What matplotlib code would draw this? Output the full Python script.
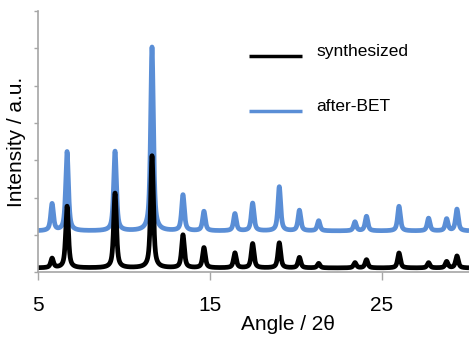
import numpy as np
import matplotlib.pyplot as plt

plt.rcParams['font.family'] = ['Liberation Sans', 'DejaVu Sans']

# peak list (2theta, deg) and peak heights above background for each pattern
peak_pos = [5.82, 6.69, 9.48, 11.63, 13.43, 14.65, 16.45, 17.48, 19.03,
            20.20, 21.32, 23.43, 24.10, 25.99, 27.71, 28.76, 29.36]
h_synth = [0.25, 1.65, 2.00, 3.00, 0.88, 0.54, 0.40, 0.65, 0.67,
           0.28, 0.12, 0.14, 0.22, 0.40, 0.14, 0.17, 0.32]
h_bet = [0.72, 2.12, 2.13, 4.92, 0.96, 0.52, 0.46, 0.74, 1.18,
         0.55, 0.27, 0.24, 0.39, 0.66, 0.34, 0.32, 0.58]
base_synth = 0.12
base_bet = 1.11

fwhm = 0.19


def pattern(x, heights, base):
    # pseudo-Voigt profile for each reflection
    y = np.full_like(x, base)
    g = fwhm / 2
    s = fwhm / 2.3548
    for p, h in zip(peak_pos, heights):
        lor = 1 / (1 + ((x - p) / g) ** 2)
        gau = np.exp(-0.5 * ((x - p) / s) ** 2)
        y += h * (0.7 * lor + 0.3 * gau)
    return y


x = np.linspace(5, 30.06, 4000)
y_synth = pattern(x, h_synth, base_synth)
y_bet = pattern(x, h_bet, base_bet)

fig = plt.figure(figsize=(4.69, 3.44), dpi=100)
ax = fig.add_axes([0.081, 0.208, 0.919, 0.760])

blue = '#5A8ED6'
ax.plot(x, y_bet, color=blue, lw=3.4, solid_capstyle='butt')
ax.plot(x, y_synth, color='black', lw=3.4, solid_capstyle='butt')

ax.set_xlim(5, 30.06)
ax.set_ylim(0, 7)
ax.set_xticks([5, 15, 25])
ax.set_yticks(range(0, 8))
ax.set_yticklabels([])

for s in ['top', 'right']:
    ax.spines[s].set_visible(False)
for s in ['left', 'bottom']:
    ax.spines[s].set_color('#a6a6a6')
    ax.spines[s].set_linewidth(1.2)

ax.tick_params(axis='x', direction='out', length=6, width=1.0,
               color='#a6a6a6', labelsize=15, pad=11)
ax.tick_params(axis='y', direction='out', length=3, width=1.0,
               color='#a6a6a6')

ax.set_xlabel('Angle / 2θ', fontsize=15, x=0.58, labelpad=0)
ax.set_ylabel('Intensity / a.u.', fontsize=15, y=0.5, labelpad=2)

# legend drawn by hand, lines level with the text baseline
ax.plot([0.49, 0.613], [0.828, 0.828], transform=ax.transAxes,
        color='black', lw=2.5, solid_capstyle='butt')
ax.plot([0.49, 0.613], [0.617, 0.617], transform=ax.transAxes,
        color=blue, lw=2.5, solid_capstyle='butt')
ax.text(0.645, 0.828, 'synthesized', transform=ax.transAxes,
        fontsize=12.5, va='baseline')
ax.text(0.645, 0.617, 'after-BET', transform=ax.transAxes,
        fontsize=12.5, va='baseline')

fig.savefig('out.png', dpi=100)
